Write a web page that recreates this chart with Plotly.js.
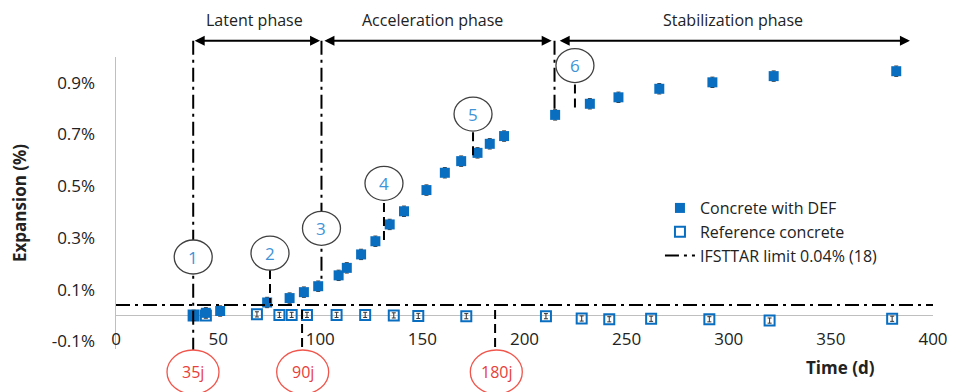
<!DOCTYPE html>
<html>
<head>
<meta charset="utf-8">
<script src="https://cdn.plot.ly/plotly-3.0.1.min.js"></script>
<style>html,body{margin:0;padding:0;background:#fff;}#chart{width:954px;height:392px;}</style>
</head>
<body>
<div id="chart"></div>
<script>
// ---- data ----
const defDays   = [38, 44, 51, 74, 85, 92, 99, 109, 113, 120, 127, 134, 141, 152, 161, 169, 177, 183, 190, 215, 232, 246, 266, 292, 322, 382];
const defValues = [0.0, 0.01, 0.017, 0.05, 0.067, 0.09, 0.113, 0.155, 0.184, 0.236, 0.287, 0.352, 0.403, 0.485, 0.552, 0.597, 0.629, 0.664, 0.694, 0.776, 0.819, 0.844, 0.877, 0.902, 0.926, 0.945];
const refDays   = [38, 44, 69, 80, 86, 93.5, 108, 122, 136, 148, 171.5, 210.5, 228, 241.5, 262, 290.5, 320, 380];
const refValues = [0.0, 0.0, 0.004, 0.002, 0.002, 0.002, 0.002, 0.002, 0.0, -0.002, -0.003, -0.003, -0.012, -0.015, -0.013, -0.015, -0.02, -0.013];
const limitValue = 0.04;
const limitDays = [0, 400];
const yTickVals = [-0.1, 0.1, 0.3, 0.5, 0.7, 0.9];
const yTickText = ['-0.1%', '0.1%', '0.3%', '0.5%', '0.7%', '0.9%'];
const xTickVals = [0, 50, 100, 150, 200, 250, 300, 350, 400];
const seriesNames = ['Concrete with DEF', 'Reference concrete', 'IFSTTAR limit 0.04% (18)'];
const phaseNames = ['Latent phase', 'Acceleration phase', 'Stabilization phase'];
const phaseBounds = [[37.8, 99.9], [101.3, 213.3], [216.5, 388.7]];
const phaseLabelDays = [68, 155, 302];
const phaseLines = [37.8, 100.6, 214.7];
const stepLabels = ['1', '2', '3', '4', '5', '6'];
const stepDays = [37.8, 75.4, 100.6, 131.2, 174.8, 224.7];
const stepValues = [0.226, 0.241, 0.337, 0.511, 0.779, 0.967];
const dayLabels = ['35j', '90j', '180j'];
const dayLabelDays = [37.7, 91.4, 186.2];

// ---- layout helpers ----
const Y0 = -0.13, Y1 = 1.0;
const yp = v => (v - Y0) / (Y1 - Y0);   // data value -> paper fraction
const FONT = 'Open Sans, DejaVu Sans, sans-serif';
const BLUE = '#0A6EC0';
const DASHDOT = '14px,5px,3px,5px';

const traces = [
  {
    x: refDays, y: refValues, name: seriesNames[1], type: 'scatter', mode: 'markers',
    legendrank: 2,
    marker: {symbol: 'square-open', size: 10, color: BLUE, line: {color: BLUE, width: 2}},
    error_y: {type: 'constant', value: 0.01, color: '#333', thickness: 1, width: 2}
  },
  {
    x: defDays, y: defValues, name: seriesNames[0], type: 'scatter', mode: 'markers',
    legendrank: 1,
    marker: {symbol: 'square', size: 10, color: BLUE},
    error_y: {type: 'constant', value: 0.02, color: '#333', thickness: 1, width: 2}
  },
  {
    x: limitDays, y: limitDays.map(() => limitValue), name: seriesNames[2], type: 'scatter', mode: 'lines',
    legendrank: 3,
    line: {color: '#000', width: 2, dash: DASHDOT}
  }
];

const shapes = [];
const annotations = [];
const txt = (x, y, text, size, color) => ({xref: 'x', yref: 'paper', x: x, y: y, text: text, showarrow: false,
  xanchor: 'center', yanchor: 'middle', font: {family: FONT, size: size, color: color}});

// phase boundary lines (dash-dot)
const lineBottoms = [-0.142, 0.129, 0.787];
phaseLines.forEach((d, i) => {
  shapes.push({type: 'line', xref: 'x', yref: 'paper', x0: d, x1: d, y0: yp(1.063), y1: yp(lineBottoms[i]),
    line: {color: '#000', width: 2, dash: DASHDOT}});
});
// callout pointer lines (dashed)
const pointers = [[75.4, 0.176, 0.048], [131.2, 0.435, 0.28], [174.8, 0.709, 0.609], [224.7, 0.894, 0.787],
                  [91.1, 0.021, -0.142], [185.6, 0.021, -0.142]];
pointers.forEach(p => {
  shapes.push({type: 'line', xref: 'x', yref: 'paper', x0: p[0], x1: p[0], y0: yp(p[1]), y1: yp(p[2]),
    line: {color: '#000', width: 2, dash: '9px,5px'}});
});
// numbered circles
stepLabels.forEach((t, i) => {
  shapes.push({type: 'circle', xref: 'x', yref: 'paper', xsizemode: 'pixel', ysizemode: 'pixel',
    xanchor: stepDays[i], yanchor: yp(stepValues[i]), x0: -19, x1: 19, y0: -17, y1: 17,
    fillcolor: '#fff', line: {color: '#404040', width: 1.3}});
  annotations.push(txt(stepDays[i], yp(stepValues[i]), t, 17, '#3F94D8'));
});
// red day circles
dayLabels.forEach((t, i) => {
  shapes.push({type: 'circle', xref: 'x', yref: 'paper', xsizemode: 'pixel', ysizemode: 'pixel',
    xanchor: dayLabelDays[i], yanchor: yp(-0.219), x0: -26, x1: 26, y0: -22, y1: 22,
    fillcolor: '#fff', line: {color: '#F0564C', width: 1.3}});
  annotations.push(txt(dayLabelDays[i], yp(-0.219), t, 16, '#E8403A'));
});
// phase arrows and labels
phaseBounds.forEach((b, i) => {
  annotations.push({xref: 'x', yref: 'paper', x: b[1], y: yp(1.063), axref: 'x', ayref: 'pixel', ax: b[0], ay: 0,
    text: '', showarrow: true, arrowside: 'end+start', arrowhead: 2, arrowsize: 1, arrowwidth: 2,
    arrowcolor: '#000', standoff: 0, startstandoff: 0});
  annotations.push(txt(phaseLabelDays[i], yp(1.143), phaseNames[i], 16, '#222'));
});
// x axis title placed at the right
annotations.push(txt(354.9, yp(-0.2), '<b>Time (d)</b>', 17, '#222'));

const layout = {
  width: 954, height: 392,
  margin: {l: 116, r: 21, t: 57, b: 43},
  paper_bgcolor: '#fff', plot_bgcolor: '#fff',
  font: {family: FONT, size: 16, color: '#222'},
  showlegend: true,
  legend: {x: 0.6658, y: 0.541, xanchor: 'left', yanchor: 'top', bgcolor: 'rgba(0,0,0,0)',
    font: {family: FONT, size: 16, color: '#222'}, tracegroupgap: 0},
  xaxis: {
    range: [0, 400], tickvals: xTickVals, showgrid: false, zeroline: false, showline: false,
    anchor: 'free', position: 0.075, ticks: '',
    tickfont: {family: FONT, size: 17, color: '#222'}
  },
  yaxis: {
    range: [Y0, Y1], tickmode: 'array', tickvals: yTickVals, ticktext: yTickText,
    showgrid: false, zeroline: true, zerolinecolor: '#BFBFBF', zerolinewidth: 1.5,
    showline: true, linecolor: '#BFBFBF', linewidth: 1.5, ticks: '', ticklabelstandoff: 16,
    tickfont: {family: FONT, size: 17, color: '#222'},
    title: {text: '<b>Expansion (%)</b>', standoff: 20, font: {family: FONT, size: 17, color: '#222'}}
  },
  shapes: shapes,
  annotations: annotations
};

Plotly.newPlot('chart', traces, layout, {displayModeBar: false, staticPlot: true});
</script>
</body>
</html>
